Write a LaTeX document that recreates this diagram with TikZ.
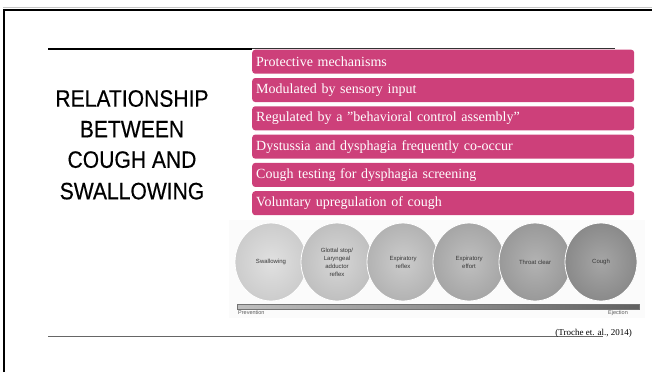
\documentclass[tikz,border=0pt]{standalone}
\usepackage{fontspec}
\setmainfont{Liberation Serif}
\setsansfont{Liberation Sans}
\newfontfamily\titlefont[FakeStretch=0.89,FakeBold=0.4]{Liberation Sans}
\usetikzlibrary{shapes.geometric}
\definecolor{rosebox}{RGB}{205,64,122}
\definecolor{stagetext}{RGB}{55,55,55}
\begin{document}
\begin{tikzpicture}[x=1pt,y=-1pt,
  rowbox/.style={fill=rosebox, rounded corners=3pt, anchor=north west,
    minimum width=382pt, minimum height=24pt, text width=374pt, align=left,
    inner xsep=4pt, inner ysep=0pt, text=white, font=\fontsize{14}{16}\selectfont},
  heading/.style={anchor=base, inner sep=0pt, font=\titlefont\fontsize{23.7}{28}\selectfont},
  stage/.style={ellipse, minimum width=72pt, minimum height=78pt, inner sep=0pt,
    draw=white, line width=0.8pt, align=center, text=stagetext,
    font=\sffamily\fontsize{6}{8}\selectfont},
  scalelabel/.style={inner sep=0pt, text=black!65, font=\sffamily\fontsize{5.5}{6}\selectfont}]
  \useasboundingbox (0,0) rectangle (652,372);

  % slide frame
  \draw[gray!45, line width=0.8pt] (3,7) -- (652,7);
  \draw[line width=2pt] (4,372) -- (4,10) -- (652,10);

  % horizontal rules
  \draw[line width=2pt] (48,49) -- (252,49);
  \draw[black!80, line width=0.9pt] (252,48.3) -- (615,48.3);
  \draw[black!60, line width=1.4pt] (48,336.5) -- (603,336.5);

  % title
  \node[heading] (t1) at (132,106.7) {RELATIONSHIP};
  \node[heading] (t2) at (132,137.3) {BETWEEN};
  \node[heading] (t3) at (132,167.8) {COUGH AND};
  \node[heading] (t4) at (132,199.3) {SWALLOWING};

  % list of points
  \node[rowbox] (p1) at (252,49.5)  {Protective mechanisms};
  \node[rowbox] (p2) at (252,77.8)  {Modulated by sensory input};
  \node[rowbox] (p3) at (252,106.1) {Regulated by a ”behavioral control assembly”};
  \node[rowbox] (p4) at (252,134.4) {Dystussia and dysphagia frequently co-occur};
  \node[rowbox] (p5) at (252,162.7) {Cough testing for dysphagia screening};
  \node[rowbox] (p6) at (252,191)   {Voluntary upregulation of cough};

  % continuum of airway protection
  \fill[gray!3] (229,220) rectangle (645,318);
  \node[stage, inner color=black!12, outer color=black!20] (c1) at (271,262) {Swallowing};
  \node[stage, inner color=black!16, outer color=black!25] (c2) at (337,262) {Glottal stop/\\Laryngeal\\adductor\\reflex};
  \node[stage, inner color=black!20, outer color=black!30] (c3) at (403,262) {Expiratory\\reflex};
  \node[stage, inner color=black!25, outer color=black!35] (c4) at (469,262) {Expiratory\\effort};
  \node[stage, inner color=black!30, outer color=black!40] (c5) at (535,262) {Throat clear};
  \node[stage, inner color=black!35, outer color=black!46] (c6) at (601,262) {Cough};

  \node[anchor=north west, minimum width=402pt, minimum height=5pt, inner sep=0pt,
    left color=black!25, right color=black!62, draw=black!55, line width=0.4pt] (bar) at (237,304) {};
  \node[scalelabel, anchor=north west] (prev) at (238,310.5) {Prevention};
  \node[scalelabel, anchor=north east] (ejec) at (628,310.5) {Ejection};

  % reference
  \node[anchor=base east, inner sep=0pt, font=\fontsize{9}{10}\selectfont] (cite) at (632,335.5) {(Troche et. al., 2014)};
\end{tikzpicture}
\end{document}
